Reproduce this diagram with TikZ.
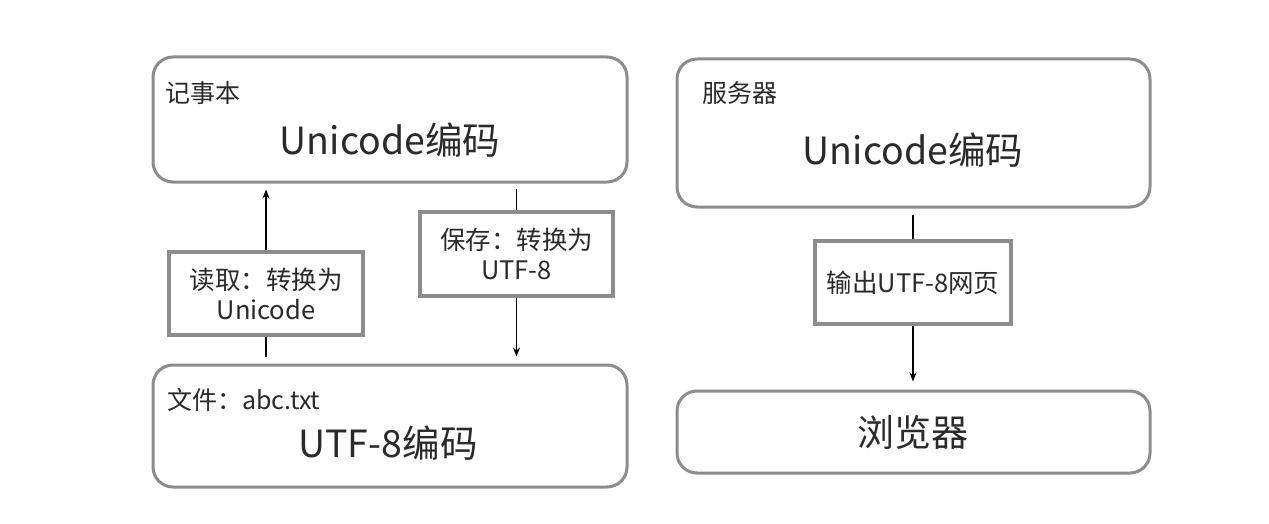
\documentclass[tikz,border=0pt]{standalone}
\usepackage{fontspec}
\setmainfont{Noto Sans CJK SC}
\usetikzlibrary{arrows.meta}
\definecolor{boxgray}{HTML}{8C8C8C}
\definecolor{txt}{HTML}{2A2A2A}
\tikzset{
  bigbox/.style={draw=boxgray, line width=3pt, rounded corners=20pt, minimum width=474pt, inner sep=0pt},
  smallbox/.style={draw=boxgray, line width=3.3pt, inner sep=0pt, align=center, text=txt, font=\fontsize{25.5}{30}\selectfont},
  tag/.style={anchor=west, inner sep=0pt, text=txt, font=\fontsize{25}{28}\selectfont},
  big/.style={inner sep=0pt, text=txt, font=\fontsize{37.5}{42}\selectfont},
  conn/.style={line width=1.3pt, black},
  arr/.style={conn, -{Stealth[length=9pt, width=7pt]}}
}
\begin{document}
\begin{tikzpicture}[x=1pt, y=-1pt]
\useasboundingbox (0,0) rectangle (1269,524);
\fill[white] (0,0) rectangle (1269,524);
% left column
\node[bigbox, minimum height=125pt] (notepad) at (390,119.5) {};
\node[tag] (notepadtag) at (165,93) {记事本};
\node[big] (notepadtxt) at (390,140) {Unicode编码};
\node[bigbox, minimum height=122pt] (file) at (390,426) {};
\node[tag] (filetag) at (167,400) {文件：abc.txt};
\node[big] (filetxt) at (388,443) {UTF-8编码};
\node[smallbox, minimum width=194pt, minimum height=83pt] (read) at (266,293.5) {读取：转换为\\Unicode};
\node[smallbox, minimum width=193pt, minimum height=84pt] (save) at (516.5,254) {保存：转换为\\UTF-8};
\draw[conn] ([yshift=7pt]file.north -| read.north) -- (read.south);
\draw[arr] (read.north) -- ([yshift=-6pt]notepad.south -| read.north);
\draw[conn] ([yshift=-5pt]notepad.south -| save.north) -- (save.north);
\draw[arr] (save.south) -- ([yshift=7pt]file.north -| save.south);
% right column
\node[bigbox, minimum width=473pt, minimum height=148pt] (server) at (913.5,133) {};
\node[tag] (servertag) at (702,93) {服务器};
\node[big] (servertxt) at (913,150) {Unicode编码};
\node[bigbox, minimum width=473pt, minimum height=82pt] (browser) at (913.5,432) {};
\node[big, font=\fontsize{37}{40}\selectfont] (browsertxt) at (913,432) {浏览器};
\node[smallbox, minimum width=196pt, minimum height=83pt] (out) at (913,282.5) {输出UTF-8网页};
\draw[conn] ([yshift=-6pt]server.south -| out.north) -- (out.north);
\draw[arr] (out.south) -- ([yshift=8pt]browser.north -| out.south);
\end{tikzpicture}
\end{document}
